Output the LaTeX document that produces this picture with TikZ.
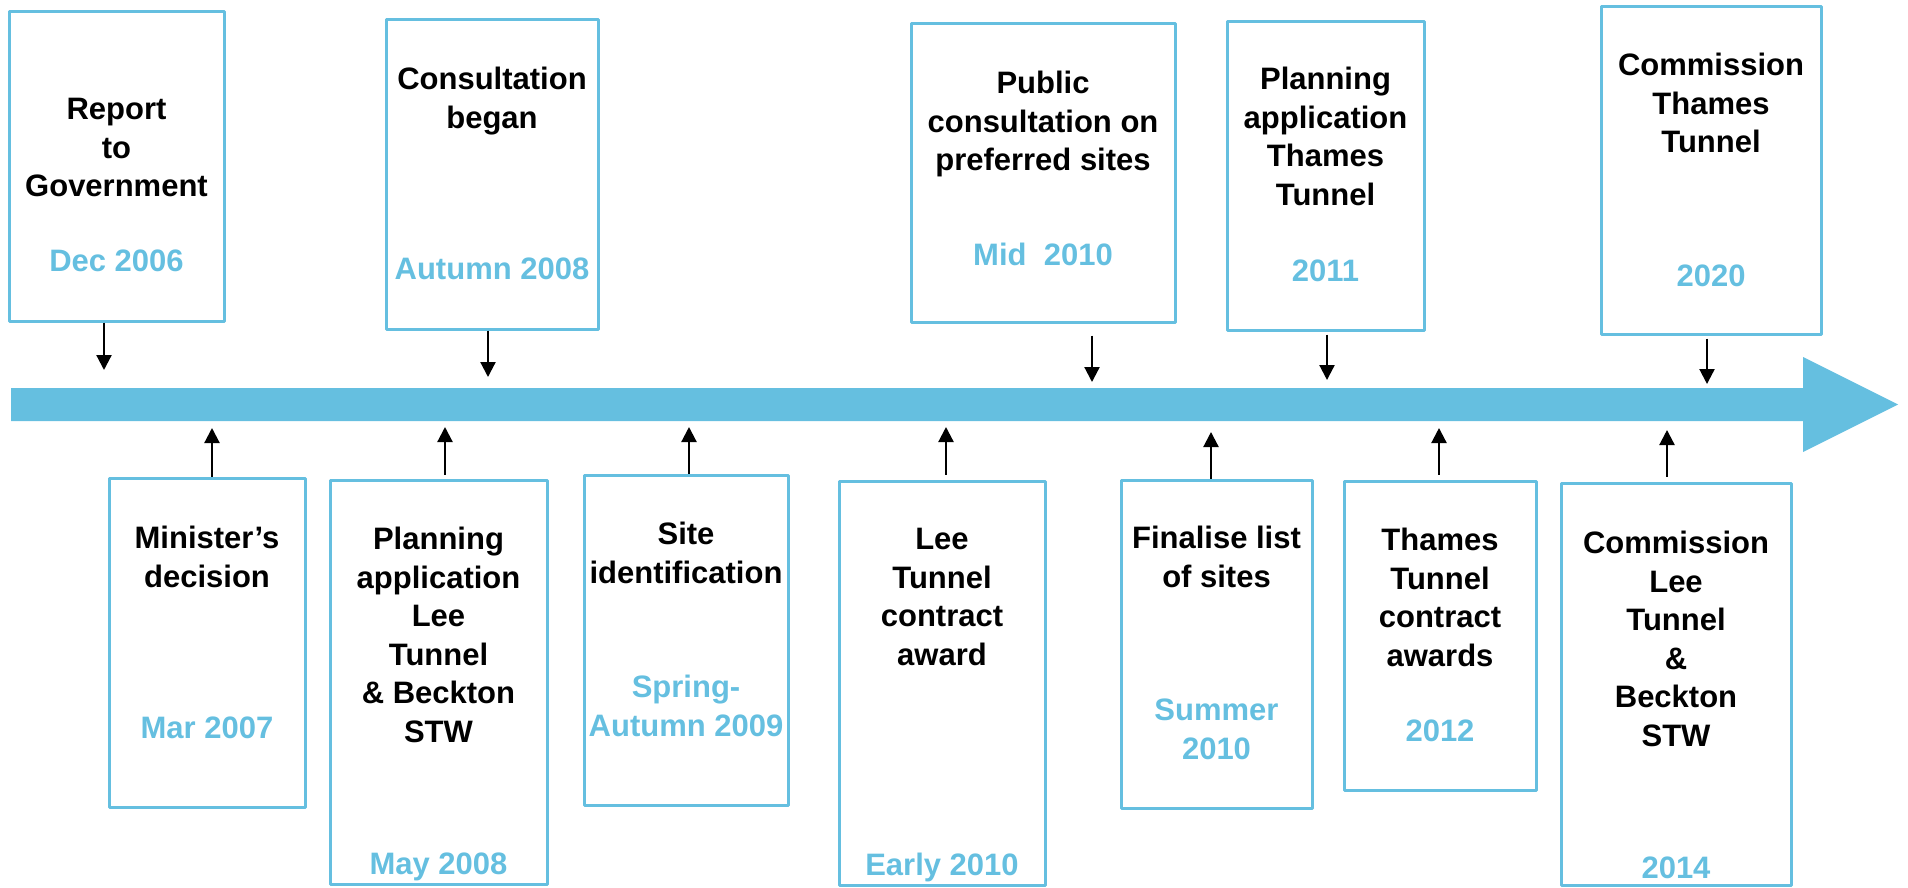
\documentclass[tikz,border=0pt]{standalone}
\usepackage{fontspec}
\setmainfont{Liberation Sans}
\usetikzlibrary{arrows.meta}
\definecolor{tideblue}{RGB}{101,191,224}

\begin{document}
\begin{tikzpicture}[x=1pt,y=-1pt,line join=round,>={Triangle[width=15pt,length=15pt]},
    evbox/.style={draw=tideblue,line width=3pt,inner sep=0pt},
    what/.style={font=\bfseries\fontsize{31}{38.5}\selectfont,align=center,inner sep=0pt,anchor=north},
    when/.style={what,text=tideblue},
    tick/.style={->,line width=2.2pt}]
        \useasboundingbox (0,0) rectangle (1908,887);
        % time line
        \fill[tideblue] (11,388) -- (1803,388) -- (1803,357) -- (1898,404.5)
              -- (1803,452) -- (1803,421) -- (11,421) -- cycle;
        \coordinate (tA) at (104,370);
        \coordinate (tB) at (212,428);
        \coordinate (tC) at (488,377);
        \coordinate (tD) at (445,427);
        \coordinate (tF) at (689,427);
        \coordinate (tH) at (946,427);
        \coordinate (tE) at (1092,382);
        \coordinate (tJ) at (1211,432);
        \coordinate (tG) at (1327,380);
        \coordinate (tK) at (1439,428);
        \coordinate (tL) at (1667,430);
        \coordinate (tI) at (1707,384);
        %
        \node[evbox,minimum width=215,minimum height=310] (report) at (116.5,166) {};
        \node[what] (reportT) at (116.5,98) {Report\\to\\Government};
        \node[when] (reportD) at (116.5,250) {Dec 2006};
        \draw[tick] (report.south -| tA) -- (tA);
        %
        \node[evbox,minimum width=196,minimum height=329] (minister) at (207,642.5) {};
        \node[what] (ministerT) at (207,526) {Minister’s\\decision};
        \node[when] (ministerD) at (207,717) {Mar 2007};
        \draw[tick] (minister.north -| tB) -- (tB);
        %
        \node[evbox,minimum width=212,minimum height=310] (consult) at (492,174) {};
        \node[what] (consultT) at (492,67) {Consultation\\began};
        \node[when] (consultD) at (492,258) {Autumn 2008};
        \draw[tick] (consult.south -| tC) -- (tC);
        %
        \node[evbox,minimum width=217,minimum height=404] (planlee) at (438.5,682) {};
        \node[what] (planleeT) at (438.5,527) {Planning\\application\\Lee\\Tunnel\\\& Beckton\\STW};
        \node[when] (planleeD) at (438.5,853) {May 2008};
        \draw[tick,shorten <=4pt] (planlee.north -| tD) -- (tD);
        %
        \node[evbox,minimum width=204,minimum height=330] (siteid) at (686,640) {};
        \node[what] (siteidT) at (686,522) {Site\\identification};
        \node[when] (siteidD) at (686,675) {Spring-\\Autumn 2009};
        \draw[tick] (siteid.north -| tF) -- (tF);
        %
        \node[evbox,minimum width=206,minimum height=404] (leecon) at (942,683) {};
        \node[what] (leeconT) at (942,528) {Lee\\Tunnel\\contract\\award};
        \node[when] (leeconD) at (942,853) {Early 2010};
        \draw[tick,shorten <=5pt] (leecon.north -| tH) -- (tH);
        %
        \node[evbox,minimum width=264,minimum height=299] (public) at (1043,172.5) {};
        \node[what] (publicT) at (1043,71) {Public\\consultation on\\preferred sites};
        \node[when] (publicD) at (1043,243) {Mid~ 2010};
        \draw[tick,shorten <=12pt] (public.south -| tE) -- (tE);
        %
        \node[evbox,minimum width=191,minimum height=328] (finalise) at (1216.5,644) {};
        \node[what] (finaliseT) at (1216.5,526) {Finalise list\\of sites};
        \node[when] (finaliseD) at (1216.5,699) {Summer\\2010};
        \draw[tick] (finalise.north -| tJ) -- (tJ);
        %
        \node[evbox,minimum width=197,minimum height=309] (planth) at (1325.5,175.5) {};
        \node[what] (planthT) at (1325.5,67) {Planning\\application\\Thames\\Tunnel};
        \node[when] (planthD) at (1325.5,260) {2011};
        \draw[tick,shorten <=3pt] (planth.south -| tG) -- (tG);
        %
        \node[evbox,minimum width=192,minimum height=309] (thcon) at (1440,635.5) {};
        \node[what] (thconT) at (1440,528) {Thames\\Tunnel\\contract\\awards};
        \node[when] (thconD) at (1440,720) {2012};
        \draw[tick,shorten <=5pt] (thcon.north -| tK) -- (tK);
        %
        \node[evbox,minimum width=230,minimum height=402] (commlee) at (1676,684) {};
        \node[what] (commleeT) at (1676,531) {Commission\\Lee\\Tunnel\\\&\\Beckton\\STW};
        \node[when] (commleeD) at (1676,857) {2014};
        \draw[tick,shorten <=5pt] (commlee.north -| tL) -- (tL);
        %
        \node[evbox,minimum width=220,minimum height=328] (commth) at (1711,170) {};
        \node[what] (commthT) at (1711,53) {Commission\\Thames\\Tunnel};
        \node[when] (commthD) at (1711,265) {2020};
        \draw[tick,shorten <=3pt] (commth.south -| tI) -- (tI);
        %
      \end{tikzpicture}
\end{document}
